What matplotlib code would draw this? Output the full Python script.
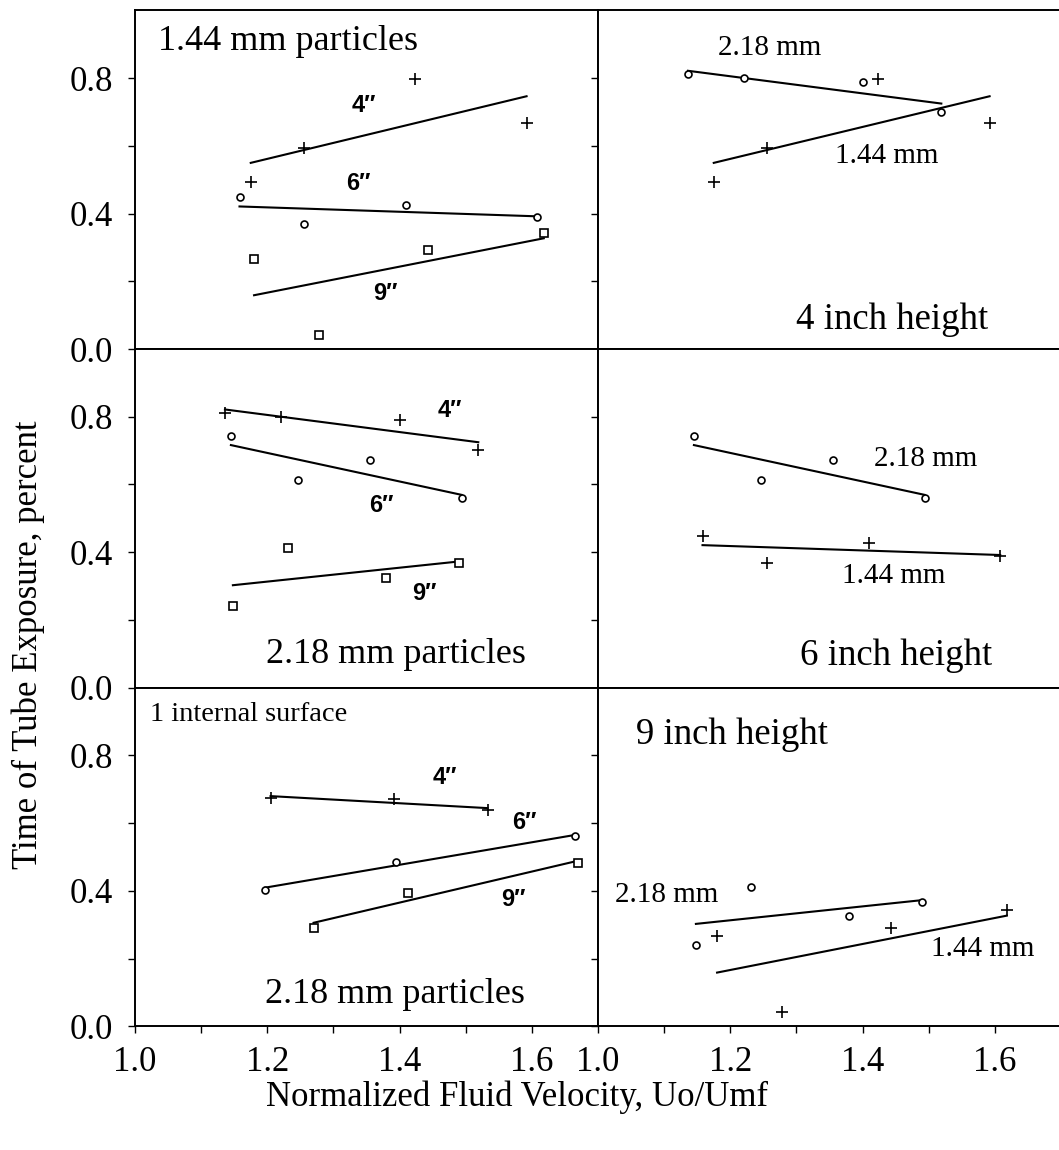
import numpy as np
import matplotlib
matplotlib.use("Agg")
import matplotlib.pyplot as plt
from matplotlib.ticker import FixedLocator, FormatStrFormatter

plt.rcParams['font.family'] = ['Liberation Serif', 'DejaVu Serif']

# Normalized fluid velocity (Uo/Umf) and time of tube exposure for each run
# 1.44 mm particles
u144_h4 = [1.175, 1.256, 1.424, 1.592]
t144_h4 = [0.492, 0.594, 0.798, 0.667]
u144_h6 = [1.158, 1.256, 1.410, 1.608]
t144_h6 = [0.448, 0.368, 0.426, 0.390]
u144_h9 = [1.180, 1.278, 1.443, 1.618]
t144_h9 = [0.267, 0.041, 0.291, 0.343]

# 2.18 mm particles
u218_h4 = [1.136, 1.221, 1.401, 1.519]
t218_h4 = [0.811, 0.800, 0.789, 0.701]
u218_h6 = [1.145, 1.246, 1.356, 1.494]
t218_h6 = [0.742, 0.613, 0.672, 0.560]
u218_h9 = [1.148, 1.231, 1.379, 1.490]
t218_h9 = [0.240, 0.413, 0.325, 0.367]

# 2.18 mm particles, 1 internal surface
uis_h4 = [1.205, 1.392, 1.533]
tis_h4 = [0.675, 0.671, 0.638]
uis_h6 = [1.197, 1.394, 1.665]
tis_h6 = [0.404, 0.485, 0.561]
uis_h9 = [1.270, 1.412, 1.670]
tis_h9 = [0.291, 0.394, 0.481]

x_major = [1.0, 1.2, 1.4, 1.6]
x_minor = [1.1, 1.3, 1.5]
y_major = [0.0, 0.4, 0.8]
y_minor = [0.2, 0.6]

MARK = {'+': dict(marker='+', ms=8, mew=1.2),
        'o': dict(marker='o', ms=5, mew=1.2, mfc='white'),
        's': dict(marker='s', ms=6, mew=1.2, mfc='white')}

fig = plt.figure(figsize=(10.59, 11.5), dpi=100)

left_l, left_w = 135 / 1059, 463 / 1059
right_l, right_w = 598 / 1059, 461 / 1059
row_h = 0.2945
row_b = [0.6965, 0.402, 0.1075]


def series(ax, u, t, m):
    u = np.asarray(u)
    t = np.asarray(t)
    k, b = np.polyfit(u, t, 1)
    xs = np.array([u.min(), u.max()])
    ax.plot(xs, k * xs + b, color='black', lw=1.5, zorder=2)
    ax.plot(u, t, ls='none', color='black', zorder=3, **MARK[m])


def style(ax, right, bottom):
    ax.set_ylim(0, 1.0)
    ax.set_xlim(1.0, 1.7 if not right else 1.0 + 461 / 661.5)
    ax.xaxis.set_major_locator(FixedLocator(x_major))
    ax.xaxis.set_minor_locator(FixedLocator(x_minor))
    ax.yaxis.set_major_locator(FixedLocator(y_major))
    ax.yaxis.set_minor_locator(FixedLocator(y_minor))
    ax.xaxis.set_major_formatter(FormatStrFormatter('%.1f'))
    ax.yaxis.set_major_formatter(FormatStrFormatter('%.1f'))
    ax.tick_params(which='both', direction='out', length=5, width=1.0,
                   labelsize=25, color='black')
    ax.tick_params(axis='y', pad=11)
    ax.tick_params(axis='x', pad=9)
    if right:
        ax.tick_params(axis='y', labelleft=False)
        ax.spines['right'].set_visible(False)
    if not bottom:
        ax.tick_params(axis='x', labelbottom=False)
    for s in ax.spines.values():
        s.set_linewidth(1.4)


axes = {}
for r in range(3):
    axes[(r, 0)] = fig.add_axes([left_l, row_b[r], left_w, row_h])
    axes[(r, 1)] = fig.add_axes([right_l, row_b[r], right_w, row_h])
for (r, c), ax in axes.items():
    style(ax, c == 1, r == 2)

INCH = dict(family=['Liberation Sans', 'DejaVu Sans'], fontweight='bold',
            fontsize=17, ha='center', va='center')
TITLE = 26.5
SIZE = 21

# 1.44 mm particles at three heights
ax = axes[(0, 0)]
series(ax, u144_h4, t144_h4, '+')
series(ax, u144_h6, t144_h6, 'o')
series(ax, u144_h9, t144_h9, 's')
ax.text(1.035, 0.908, '1.44 mm particles', fontsize=26, va='center')
ax.text(1.346, 0.72, '4\u2033', **INCH)
ax.text(1.338, 0.49, '6\u2033', **INCH)
ax.text(1.378, 0.164, '9\u2033', **INCH)

# 4 inch height
ax = axes[(0, 1)]
series(ax, u218_h4, t218_h4, 'o')
series(ax, u144_h4, t144_h4, '+')
ax.text(1.181, 0.888, '2.18 mm', fontsize=SIZE, va='center')
ax.text(1.359, 0.570, '1.44 mm', fontsize=SIZE, va='center')
ax.text(1.299, 0.085, '4 inch height', fontsize=TITLE, va='center')

# 2.18 mm particles at three heights
ax = axes[(1, 0)]
series(ax, u218_h4, t218_h4, '+')
series(ax, u218_h6, t218_h6, 'o')
series(ax, u218_h9, t218_h9, 's')
ax.text(1.476, 0.818, '4\u2033', **INCH)
ax.text(1.373, 0.537, '6\u2033', **INCH)
ax.text(1.438, 0.279, '9\u2033', **INCH)
ax.text(1.394, 0.098, '2.18 mm particles', fontsize=26, ha='center', va='center')

# 6 inch height
ax = axes[(1, 1)]
series(ax, u218_h6, t218_h6, 'o')
series(ax, u144_h6, t144_h6, '+')
ax.text(1.417, 0.675, '2.18 mm', fontsize=SIZE, va='center')
ax.text(1.369, 0.330, '1.44 mm', fontsize=SIZE, va='center')
ax.text(1.306, 0.093, '6 inch height', fontsize=TITLE, va='center')

# 2.18 mm particles with one internal surface
ax = axes[(2, 0)]
series(ax, uis_h4, tis_h4, '+')
series(ax, uis_h6, tis_h6, 'o')
series(ax, uis_h9, tis_h9, 's')
ax.text(1.023, 0.921, '1 internal surface', fontsize=20.5, va='center')
ax.text(1.469, 0.734, '4\u2033', **INCH)
ax.text(1.589, 0.601, '6\u2033', **INCH)
ax.text(1.572, 0.374, '9\u2033', **INCH)
ax.text(1.393, 0.094, '2.18 mm particles', fontsize=26, ha='center', va='center')

# 9 inch height
ax = axes[(2, 1)]
series(ax, u218_h9, t218_h9, 'o')
series(ax, u144_h9, t144_h9, '+')
ax.text(1.058, 0.862, '9 inch height', fontsize=TITLE, va='center')
ax.text(1.026, 0.389, '2.18 mm', fontsize=SIZE, va='center')
ax.text(1.504, 0.227, '1.44 mm', fontsize=SIZE, va='center')

fig.text(517 / 1059, 1 - 1097 / 1150, 'Normalized Fluid Velocity, Uo/Umf',
         fontsize=25, ha='center', va='center')
fig.text(28 / 1059, 1 - 645 / 1150, 'Time of Tube Exposure, percent',
         fontsize=25, ha='center', va='center', rotation=90)

fig.savefig('out.png', dpi=100)
